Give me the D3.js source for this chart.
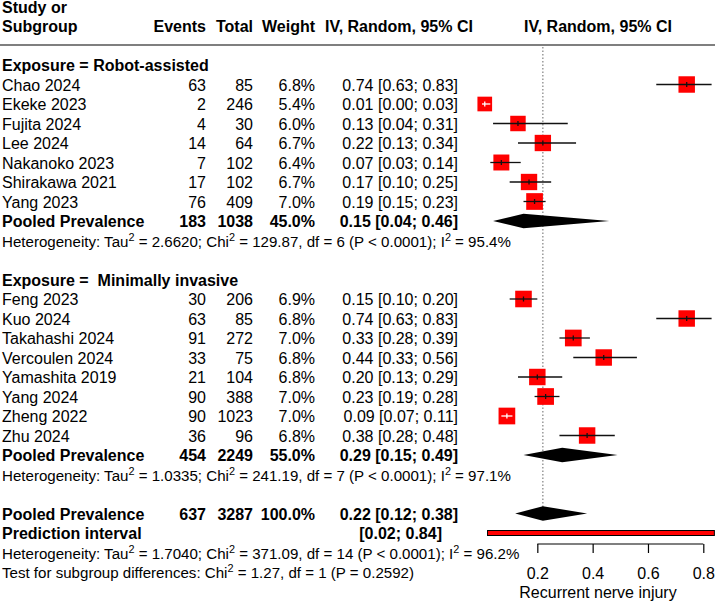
<!DOCTYPE html>
<html><head><meta charset="utf-8">
<script src="https://cdn.jsdelivr.net/npm/d3@7"></script>
<style>
body{margin:0;background:#fff}
svg{display:block;font-family:"Liberation Sans",Arial,Helvetica,sans-serif}
text{white-space:pre}
</style>
</head><body><svg id="c" width="715" height="603"></svg>
<script>
// ---------- data ----------
const robotLabel = "Exposure = Robot-assisted";
const robotStudies = ["Chao 2024","Ekeke 2023","Fujita 2024","Lee 2024","Nakanoko 2023","Shirakawa 2021","Yang 2023"];
const robotEvents  = [63, 2, 4, 14, 7, 17, 76];
const robotTotals  = [85, 246, 30, 64, 102, 102, 409];
const robotWeights = [6.8, 5.4, 6.0, 6.7, 6.4, 6.7, 7.0];
const robotEst     = [0.74, 0.01, 0.13, 0.22, 0.07, 0.17, 0.19];
const robotLower   = [0.63, 0.00, 0.04, 0.13, 0.03, 0.10, 0.15];
const robotUpper   = [0.83, 0.03, 0.31, 0.34, 0.14, 0.25, 0.23];
const robotPooled  = [183, 1038, 45.0, 0.15, 0.04, 0.46]; // events, total, weight, est, lower, upper
const robotHet = "Heterogeneity: Tau^2 = 2.6620; Chi^2 = 129.87, df = 6 (P < 0.0001); I^2 = 95.4%";

const miLabel = "Exposure =  Minimally invasive";
const miStudies = ["Feng 2023","Kuo 2024","Takahashi 2024","Vercoulen 2024","Yamashita 2019","Yang 2024","Zheng 2022","Zhu 2024"];
const miEvents  = [30, 63, 91, 33, 21, 90, 90, 36];
const miTotals  = [206, 85, 272, 75, 104, 388, 1023, 96];
const miWeights = [6.9, 6.8, 7.0, 6.8, 6.8, 7.0, 7.0, 6.8];
const miEst     = [0.15, 0.74, 0.33, 0.44, 0.20, 0.23, 0.09, 0.38];
const miLower   = [0.10, 0.63, 0.28, 0.33, 0.13, 0.19, 0.07, 0.28];
const miUpper   = [0.20, 0.83, 0.39, 0.56, 0.29, 0.28, 0.11, 0.48];
const miPooled  = [454, 2249, 55.0, 0.29, 0.15, 0.49];
const miHet = "Heterogeneity: Tau^2 = 1.0335; Chi^2 = 241.19, df = 7 (P < 0.0001); I^2 = 97.1%";

const overallPooled = [637, 3287, 100.0, 0.22, 0.12, 0.38];
const predInterval  = [0.02, 0.84];
const overallHet = "Heterogeneity: Tau^2 = 1.7040; Chi^2 = 371.09, df = 14 (P < 0.0001); I^2 = 96.2%";
const subgroupTest = "Test for subgroup differences: Chi^2 = 1.27, df = 1 (P = 0.2592)";

const axisTicks = [0.2, 0.4, 0.6, 0.8];
const axisTitle = "Recurrent nerve injury";
const refValue = 0.22;

// ---------- layout ----------
const svg = d3.select("#c");
const x = d3.scaleLinear().domain([0, 0.8]).range([482, 703.3]);
const y = d3.scaleLinear().domain([0, 26]).range([65, 572]);
const boxSize = d3.scaleSqrt().domain([0, 7]).range([0, 16.7]);
const f2 = d3.format(".2f"), f1 = d3.format(".1f");
const ciText = (e, l, u) => `${f2(e)} [${f2(l)}; ${f2(u)}]`;

const colStudy = 2, colEvents = 206, colTotal = 253, colWeight = 315, colCI = 458;
const FS = 16, FSH = 15.1;
const plotCenter = (x(0) + 714) / 2;

function txt(xp, yp, s, opt = {}) {
  return svg.append("text").attr("x", xp).attr("y", yp)
    .attr("font-size", opt.size || FS)
    .attr("font-weight", opt.bold ? "bold" : "normal")
    .attr("text-anchor", opt.anchor || "start")
    .attr("fill", "#000").text(s);
}
function supText(xp, yp, s, size) {
  const t = svg.append("text").attr("x", xp).attr("y", yp).attr("font-size", size).attr("fill", "#000");
  const parts = s.split("^2");
  parts.forEach((p, i) => {
    t.append("tspan").attr("dy", i === 0 ? 0 : 6).text(p);
    if (i < parts.length - 1) t.append("tspan").attr("font-size", size * 0.72).attr("dy", -6).text("2");
  });
}
const base = i => y(i) + 6;

// header
txt(colStudy, 13, "Study or", {bold: true});
txt(colStudy, 32, "Subgroup", {bold: true});
txt(colEvents, 32, "Events", {bold: true, anchor: "end"});
txt(colTotal, 32, "Total", {bold: true, anchor: "end"});
txt(colWeight, 32, "Weight", {bold: true, anchor: "end"});
txt(325, 32, "IV, Random, 95% CI", {bold: true});
txt(plotCenter, 32, "IV, Random, 95% CI", {bold: true, anchor: "middle"});
svg.append("line").attr("x1", 0).attr("x2", 715).attr("y1", 45).attr("y2", 45)
  .attr("stroke", "#000").attr("stroke-width", 1.2);

// reference line
svg.append("line").attr("x1", x(refValue)).attr("x2", x(refValue))
  .attr("y1", 47).attr("y2", y(23))
  .attr("stroke", "#808080").attr("stroke-width", 1.2).attr("stroke-dasharray", "1.5,2");

function studyRows(start, names, ev, tot, w, est, lo, hi) {
  names.forEach((n, i) => {
    const r = start + i, yb = base(r), cy = y(r);
    txt(colStudy, yb, n);
    txt(colEvents, yb, String(ev[i]), {anchor: "end"});
    txt(colTotal, yb, String(tot[i]), {anchor: "end"});
    txt(colWeight, yb, f1(w[i]) + "%", {anchor: "end"});
    txt(colCI, yb, ciText(est[i], lo[i], hi[i]), {anchor: "end"});
    const s = boxSize(w[i]), cx = x(est[i]);
    svg.append("rect").attr("x", cx - s / 2).attr("y", cy - s / 2).attr("width", s).attr("height", s)
      .attr("fill", "#ff0000");
    const inside = x(lo[i]) >= cx - s / 2 && x(hi[i]) <= cx + s / 2;
    const col = inside ? "#fff" : "#111";
    svg.append("line").attr("x1", x(lo[i])).attr("x2", x(hi[i])).attr("y1", cy).attr("y2", cy)
      .attr("stroke", col).attr("stroke-width", 1.3);
    svg.append("line").attr("x1", cx).attr("x2", cx).attr("y1", cy - 2.5).attr("y2", cy + 2.5)
      .attr("stroke", col).attr("stroke-width", 1.3);
  });
}
function pooledRow(r, p, label) {
  const yb = base(r), cy = y(r);
  txt(colStudy, yb, label, {bold: true});
  txt(colEvents, yb, String(p[0]), {bold: true, anchor: "end"});
  txt(colTotal, yb, String(p[1]), {bold: true, anchor: "end"});
  txt(colWeight, yb, f1(p[2]) + "%", {bold: true, anchor: "end"});
  txt(colCI, yb, ciText(p[3], p[4], p[5]), {bold: true, anchor: "end"});
  const h = 7.3;
  const pts = [[x(p[4]), cy], [x(p[3]), cy - h], [x(p[5]), cy], [x(p[3]), cy + h]];
  svg.append("path").attr("d", d3.line()(pts) + "Z").attr("fill", "#000");
}

// subgroup 1
txt(colStudy, base(0), robotLabel, {bold: true});
studyRows(1, robotStudies, robotEvents, robotTotals, robotWeights, robotEst, robotLower, robotUpper);
pooledRow(8, robotPooled, "Pooled Prevalence");
supText(colStudy, base(9), robotHet, FSH);

// subgroup 2
txt(colStudy, base(11), miLabel, {bold: true});
studyRows(12, miStudies, miEvents, miTotals, miWeights, miEst, miLower, miUpper);
pooledRow(20, miPooled, "Pooled Prevalence");
supText(colStudy, base(21), miHet, FSH);

// overall
pooledRow(23, overallPooled, "Pooled Prevalence");
txt(colStudy, base(24), "Prediction interval", {bold: true});
txt(442, base(24), `[${f2(predInterval[0])}; ${f2(predInterval[1])}]`, {bold: true, anchor: "end"});
svg.append("rect").attr("x", x(predInterval[0])).attr("y", y(24) - 2.5)
  .attr("width", x(predInterval[1]) - x(predInterval[0])).attr("height", 5)
  .attr("fill", "#ff0000").attr("stroke", "#000").attr("stroke-width", 1);
supText(colStudy, base(25), overallHet, FSH);
supText(colStudy, base(26), subgroupTest, FSH);

// axis
const axY = 544;
const ax = svg.append("g").attr("transform", `translate(0,${axY})`)
  .call(d3.axisBottom(x).tickValues(axisTicks).tickFormat(d3.format(".1f")).tickSize(9).tickPadding(14.5));
ax.select(".domain").remove();
ax.selectAll(".tick line").attr("stroke", "#000").attr("stroke-width", 1.2);
ax.selectAll(".tick text").attr("font-size", FS).attr("font-family", "Liberation Sans, Arial, sans-serif").attr("fill", "#000");
ax.append("line").attr("x1", x(axisTicks[0])).attr("x2", x(axisTicks[axisTicks.length - 1]))
  .attr("y1", 0).attr("y2", 0).attr("stroke", "#000").attr("stroke-width", 1.2);
txt(plotCenter, 598, axisTitle, {anchor: "middle"});
</script></body></html>
